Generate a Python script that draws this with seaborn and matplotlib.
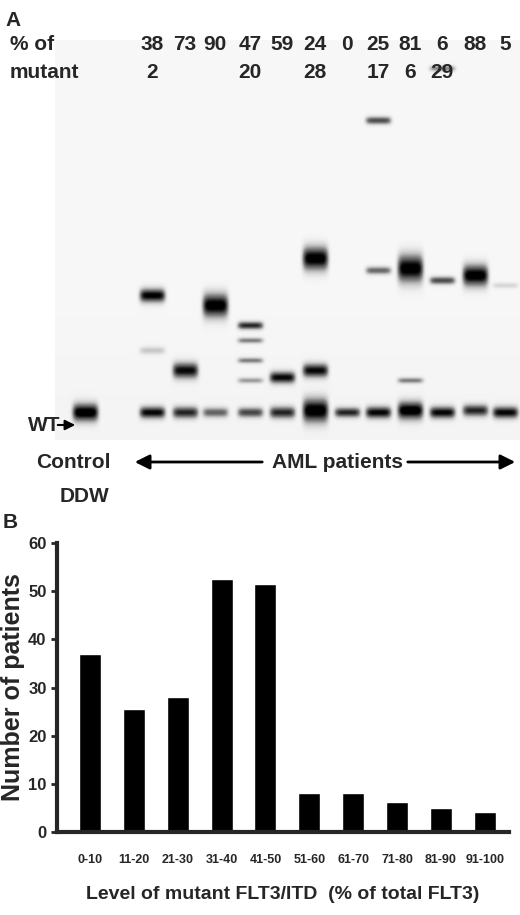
import numpy as np
import pandas as pd
import matplotlib
matplotlib.use("Agg")
import matplotlib.pyplot as plt
import seaborn as sns

sns.set_style("white")
plt.rcParams['font.family'] = ['Liberation Sans', 'DejaVu Sans']
plt.rcParams['font.weight'] = 'bold'

# Panel B data
categories = ["0-10", "11-20", "21-30", "31-40", "41-50", "51-60", "61-70", "71-80", "81-90", "91-100"]
patients = [37, 25.5, 28, 52.5, 51.5, 8, 8, 6.3, 5, 4.2]

# Panel A lane labels
top_row = ["38", "73", "90", "47", "59", "24", "0", "25", "81", "6", "88", "5"]
bottom_row = ["2", "", "", "20", "", "28", "", "17", "6", "29", "", ""]
# Gel bands: (lane index, migration position px, intensity, vertical size)
lane_centers = [85, 152, 185, 215, 250, 282, 315, 347, 378, 410, 442, 475, 505]
band_lane = [0, 1, 2, 3, 4, 5, 6, 7, 8, 9, 10, 11, 12,
             1, 1, 2, 3, 4, 4, 4, 4, 5, 6, 6, 8, 8, 9, 9, 10, 10, 11, 12]
band_pos = [412, 412, 412, 412, 412, 412, 410, 412, 412, 410, 412, 410, 412,
            295, 350, 370, 305, 325, 340, 360, 380, 377, 258, 370, 120, 270, 268, 380, 68, 280, 275, 285]
band_int = [1.0, 0.9, 0.8, 0.6, 0.7, 0.8, 1.0, 0.8, 0.9, 1.0, 0.9, 0.8, 0.9,
            0.95, 0.25, 0.9, 1.0, 0.8, 0.5, 0.5, 0.4, 0.9, 1.0, 0.9, 0.7, 0.6, 1.0, 0.5, 0.5, 0.7, 1.0, 0.2]
band_h = [9, 6, 6, 5, 5, 6, 12, 5, 6, 9, 6, 6, 6,
          7, 4, 8, 12, 4, 3, 3, 3, 6, 12, 7, 4, 4, 14, 3, 3, 4, 11, 3]

fig = plt.figure(figsize=(5.2, 9.15), dpi=100)
W, H = 520, 915

# ---------- Panel A ----------
axA = fig.add_axes([55 / W, 1 - 440 / H, 465 / W, 400 / H])
xs = np.arange(55, 520)
ys = np.arange(40, 440)
X, Y = np.meshgrid(xs, ys)
img = np.full(X.shape, 0.06)
img += 0.03 * np.exp(-((Y - 440) / 120.0) ** 2)
for li, p, a, h in zip(band_lane, band_pos, band_int, band_h):
    cx = lane_centers[li]
    img += a * np.exp(-((X - cx) / 13.0) ** 6) * np.exp(-((Y - p) / h) ** 2)
img = np.clip(img, 0, 1)
axA.imshow(img, cmap="Greys", vmin=0, vmax=1, extent=[55, 520, 440, 40], aspect="auto")
axA.set_xlim(55, 520)
axA.set_ylim(440, 40)
axA.axis("off")

def ftxt(x, y, s, **kw):
    fig.text(x / W, 1 - y / H, s, fontweight="bold", **kw)

ftxt(5, 20, "A", fontsize=15, va="center")
ftxt(10, 45, "% of", fontsize=15, va="center")
ftxt(10, 72, "mutant", fontsize=15, va="center")
for i, (t, b) in enumerate(zip(top_row, bottom_row)):
    cx = lane_centers[i + 1]
    ftxt(cx, 45, t, fontsize=15, va="center", ha="center")
    if b:
        ftxt(cx, 72, b, fontsize=15, va="center", ha="center")
ftxt(28, 425, "WT", fontsize=15, va="center")
fig.add_artist(matplotlib.patches.FancyArrowPatch((55 / W, 1 - 425 / H), (78 / W, 1 - 425 / H),
               transform=fig.transFigure, arrowstyle="-|>", mutation_scale=15, color="black", lw=1.5))
ftxt(36, 462, "Control", fontsize=15, va="center")
ftxt(60, 497, "DDW", fontsize=15, va="center")
ftxt(272, 462, "AML patients", fontsize=15, va="center")
fig.add_artist(matplotlib.patches.FancyArrowPatch((265 / W, 1 - 462 / H), (132 / W, 1 - 462 / H),
               transform=fig.transFigure, arrowstyle="-|>", mutation_scale=22, color="black", lw=2))
fig.add_artist(matplotlib.patches.FancyArrowPatch((405 / W, 1 - 462 / H), (518 / W, 1 - 462 / H),
               transform=fig.transFigure, arrowstyle="-|>", mutation_scale=22, color="black", lw=2))

# ---------- Panel B ----------
ftxt(3, 522, "B", fontsize=15, va="center")
axB = fig.add_axes([57 / W, 1 - 832 / H, 452 / W, 289 / H])
df = pd.DataFrame({"cat": categories, "n": patients})
sns.barplot(data=df, x="cat", y="n", color="black", width=0.5, saturation=1, ax=axB)
axB.set_ylim(0, 60)
axB.set_yticks(range(0, 61, 10))
axB.set_xlim(-0.75, 9.55)
axB.tick_params(axis="y", labelsize=12, length=4, width=2, direction="out", left=True)
axB.tick_params(axis="x", labelsize=9, length=0, pad=16)
for lab in axB.get_xticklabels() + axB.get_yticklabels():
    lab.set_fontweight("bold")
axB.set_xlabel("Level of mutant FLT3/ITD  (% of total FLT3)", fontsize=14, fontweight="bold", labelpad=14)
axB.set_ylabel("Number of patients", fontsize=18, fontweight="bold", labelpad=2)
for s in ["top", "right"]:
    axB.spines[s].set_visible(False)
axB.spines["left"].set_linewidth(3)
axB.spines["bottom"].set_linewidth(3)

fig.savefig("out.png", dpi=100)
